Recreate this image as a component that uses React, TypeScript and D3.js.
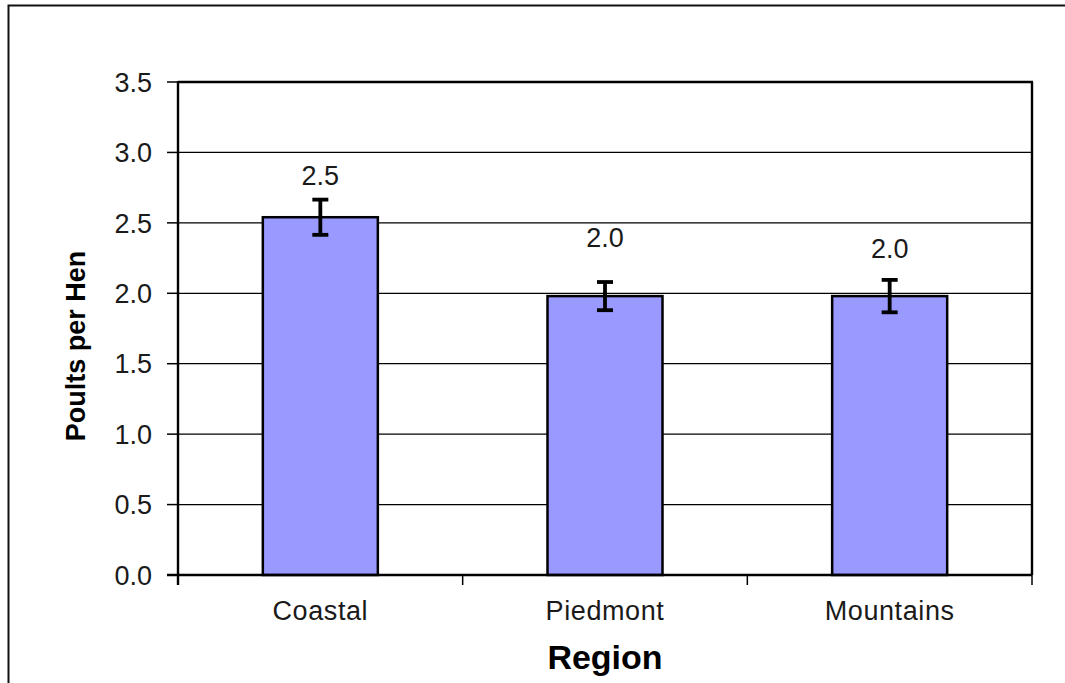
import React from "react";
import * as d3 from "d3";

const categories = ["Coastal", "Piedmont", "Mountains"];
const values = [2.54, 1.98, 1.98];
const errors = [0.125, 0.1, 0.115];
const valueLabels = ["2.5", "2.0", "2.0"];
const yTicks = [0, 0.5, 1.0, 1.5, 2.0, 2.5, 3.0, 3.5];
const yTitle = "Poults per Hen";
const xTitle = "Region";

// layout-only: how far (px) each value label sits above its error bar
const labelLift = [15, 35, 22];

const W = 1065;
const H = 683;
const M = { left: 178, right: 1032, top: 82, bottom: 575 };
const FONT = "'Liberation Sans', Arial, Helvetica, sans-serif";

export default function App() {
  const x = d3
    .scaleBand<string>()
    .domain(categories)
    .range([M.left, M.right])
    .paddingInner(0)
    .paddingOuter(0);
  const y = d3.scaleLinear().domain([0, 3.5]).range([M.bottom, M.top]);
  const barW = x.bandwidth() * 0.404;
  const boundaries = [...categories.map((c) => x(c) as number), M.right];

  return (
    <svg
      width={W}
      height={H}
      style={{ position: "absolute", left: 0, top: 0, background: "#fff" }}
      fontFamily={FONT}
    >
      <rect x={0} y={0} width={W} height={H} fill="#fff" />
      {/* outer chart border (cut off at right/bottom) */}
      <rect x={8.5} y={5.5} width={W + 40} height={H + 40} fill="none" stroke="#111" strokeWidth={2} />

      {/* gridlines */}
      {yTicks.map((t) => (
        <line key={"g" + t} x1={M.left} x2={M.right} y1={y(t)} y2={y(t)} stroke="#000" strokeWidth={1.2} />
      ))}

      {/* plot border top/right */}
      <line x1={M.left} x2={M.right + 1} y1={M.top} y2={M.top} stroke="#000" strokeWidth={2.4} />
      <line x1={M.right} x2={M.right} y1={M.top} y2={M.bottom} stroke="#000" strokeWidth={2.4} />

      {/* bars */}
      {categories.map((c, i) => {
        const cx = (x(c) as number) + x.bandwidth() / 2;
        return (
          <rect
            key={"b" + c}
            x={cx - barW / 2}
            y={y(values[i])}
            width={barW}
            height={y(0) - y(values[i])}
            fill="#9999FF"
            stroke="#000"
            strokeWidth={2.5}
          />
        );
      })}

      {/* error bars */}
      {categories.map((c, i) => {
        const cx = (x(c) as number) + x.bandwidth() / 2;
        const top = y(values[i] + errors[i]);
        const bot = y(values[i] - errors[i]);
        return (
          <g key={"e" + c} stroke="#000" strokeWidth={3.8}>
            <line x1={cx} x2={cx} y1={top} y2={bot} />
            <line x1={cx - 8} x2={cx + 8} y1={top} y2={top} />
            <line x1={cx - 8} x2={cx + 8} y1={bot} y2={bot} />
          </g>
        );
      })}

      {/* value labels */}
      {categories.map((c, i) => {
        const cx = (x(c) as number) + x.bandwidth() / 2;
        const top = y(values[i] + errors[i]);
        return (
          <text key={"v" + c} x={cx} y={top - labelLift[i]} textAnchor="middle" fontSize={27} fill="#1a1a1a">
            {valueLabels[i]}
          </text>
        );
      })}

      {/* axes */}
      <line x1={M.left} x2={M.left} y1={M.top - 1} y2={M.bottom + 10} stroke="#000" strokeWidth={2.4} />
      <line x1={M.left - 11} x2={M.right} y1={M.bottom} y2={M.bottom} stroke="#000" strokeWidth={2.4} />
      {yTicks.map((t) => (
        <g key={"t" + t}>
          <line x1={M.left - 11} x2={M.left} y1={y(t)} y2={y(t)} stroke="#000" strokeWidth={1.5} />
          <text x={152} y={y(t)} dy="0.36em" textAnchor="end" fontSize={27} fill="#1a1a1a">
            {t.toFixed(1)}
          </text>
        </g>
      ))}
      {boundaries.map((b, i) => (
        <line key={"xt" + i} x1={b} x2={b} y1={M.bottom} y2={M.bottom + 10} stroke="#000" strokeWidth={1.5} />
      ))}
      {categories.map((c) => (
        <text
          key={"xl" + c}
          x={(x(c) as number) + x.bandwidth() / 2}
          y={620}
          textAnchor="middle"
          fontSize={27}
          letterSpacing={0.6}
          fill="#1a1a1a"
        >
          {c}
        </text>
      ))}

      {/* titles */}
      <text x={(M.left + M.right) / 2} y={669} textAnchor="middle" fontSize={34} fontWeight="bold" fill="#000">
        {xTitle}
      </text>
      <text
        transform={`translate(85,346) rotate(-90)`}
        textAnchor="middle"
        fontSize={27}
        fontWeight="bold"
        fill="#000"
      >
        {yTitle}
      </text>
    </svg>
  );
}
